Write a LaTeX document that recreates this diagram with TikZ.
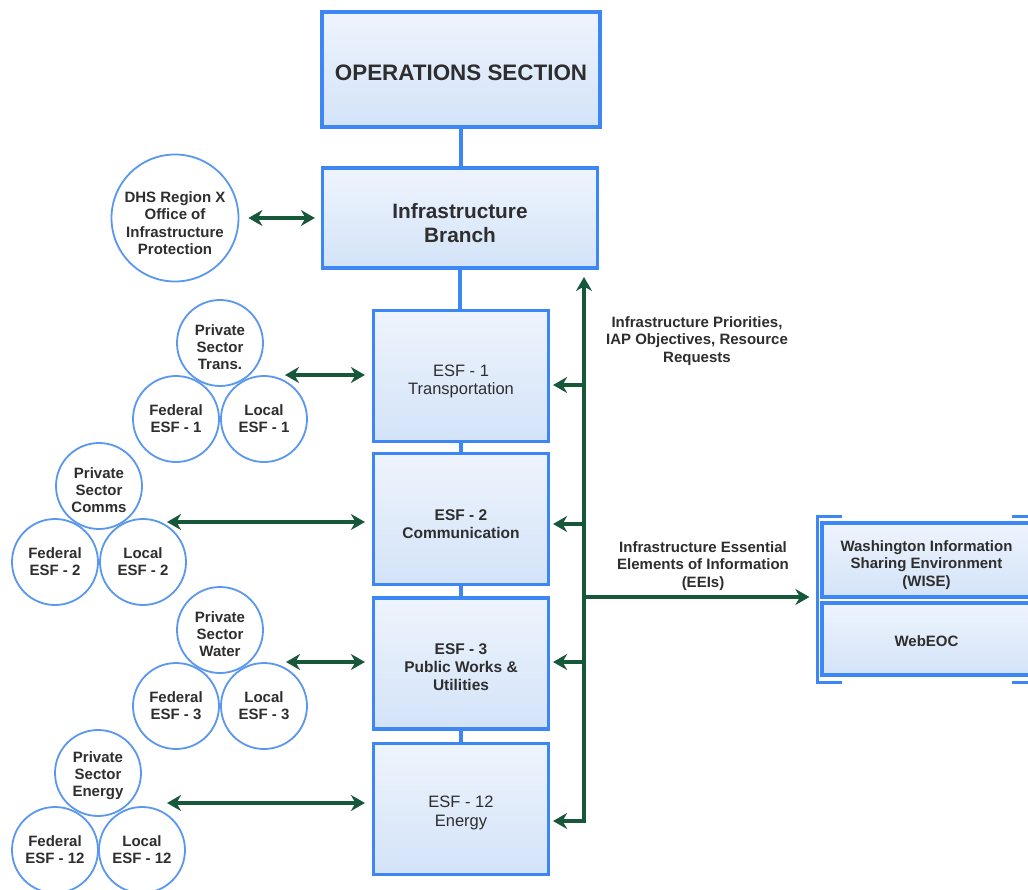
\documentclass[tikz,border=0pt]{standalone}
\usepackage{fontspec}
\setmainfont{Liberation Sans}
\usetikzlibrary{arrows.meta}
\definecolor{bblue}{HTML}{3D87F5}
\definecolor{cblue}{HTML}{5A97EE}
\definecolor{gline}{HTML}{17583A}
\definecolor{txt}{HTML}{2E2E2E}
\definecolor{ftop}{HTML}{EEF4FD}
\definecolor{fbot}{HTML}{D3E3F8}
\begin{document}
\begin{tikzpicture}[x=1pt,y=-1pt,
  box/.style={draw=bblue, line width=3.2pt, top color=ftop, bottom color=fbot, inner sep=0pt},
  esfbox/.style={box, minimum width=175pt, minimum height=131pt},
  tx/.style={align=center, text=txt, inner sep=0pt},
  esfbold/.style={tx, font=\fontsize{15.5}{18}\selectfont\bfseries},
  esfthin/.style={tx, font=\fontsize{16.5}{18.5}\selectfont},
  org/.style={draw=cblue, line width=1.8pt, circle, fill=white, minimum size=86pt, inner sep=0pt, align=center, text=txt, font=\fontsize{15}{17}\selectfont\bfseries},
  ptx/.style={tx, font=\fontsize{15}{17}\selectfont\bfseries},
  link/.style={draw=bblue, line width=4.5pt},
  bracket/.style={draw=bblue, line width=3pt},
  garrow/.style={draw=gline, line width=4pt, -{Stealth[length=14pt,width=16pt]}},
  gboth/.style={draw=gline, line width=4pt, {Stealth[length=14pt,width=16pt]}-{Stealth[length=14pt,width=16pt]}},
  lbl/.style={align=center, text=txt, font=\fontsize{15}{17.5}\selectfont\bfseries},
]
\useasboundingbox (0,0) rectangle (1028,890);
\fill[white] (0,0) rectangle (1028,890);
\clip (0,0) rectangle (1028,890);

% main boxes
\node[box, minimum width=278pt, minimum height=115pt] (ops) at (461,69.5) {};
\node[tx, font=\fontsize{22.4}{26}\selectfont\bfseries] (opst) at ([yshift=-3pt]ops.center) {OPERATIONS SECTION};
\node[box, minimum width=275pt, minimum height=100pt] (branch) at (460,218) {};
\node[tx, font=\fontsize{20.8}{23.5}\selectfont\bfseries] (brancht) at ([yshift=-5pt]branch.center) {Infrastructure\\Branch};
\node[esfbox] (esf1) at (461,376) {};
\node[esfthin] (esf1t) at ([yshift=-5.5pt]esf1.center) {ESF - 1\\Transportation};
\node[esfbox] (esf2) at (461,519) {};
\node[esfbold] (esf2t) at ([yshift=-5pt]esf2.center) {ESF - 2\\Communication};
\node[esfbox] (esf3) at (461,663.5) {};
\node[esfbold] (esf3t) at ([yshift=-4pt]esf3.center) {ESF - 3\\Public Works \&\\Utilities};
\node[esfbox] (esf12) at (461,809) {};
\node[esfthin] (esf12t) at ([yshift=-4pt]esf12.center) {ESF - 12\\Energy};

\draw[link] (ops.south) -- (ops.south |- branch.north);
\draw[link] (branch.south) -- (branch.south |- esf1.north);
\draw[link] (esf1.south) -- (esf2.north);
\draw[link] (esf2.south) -- (esf3.north);
\draw[link] (esf3.south) -- (esf12.north);

% DHS
\node[org, minimum size=127pt] (dhs) at (175,218) {};
\node[tx, font=\fontsize{15}{17.5}\selectfont\bfseries] (dhst) at ([yshift=-5pt]dhs.center) {DHS Region X\\Office of\\Infrastructure\\Protection};
\draw[gboth, shorten <=9pt, shorten >=6pt] (dhs.east) -- (dhs.east -| branch.west);

% circle groups
\node[org] (p1) at (220,343) {};
\node[ptx] (p1t) at ([yshift=-4pt]p1.center) {Private\\Sector\\Trans.};
\node[org] (f1) at (176,419) {Federal\\ESF - 1};
\node[org] (l1) at (264,419) {Local\\ESF - 1};
\node[org] (p2) at (99,486) {};
\node[ptx] (p2t) at ([yshift=-4pt]p2.center) {Private\\Sector\\Comms};
\node[org] (f2) at (55,562) {Federal\\ESF - 2};
\node[org] (l2) at (143,562) {Local\\ESF - 2};
\node[org] (p3) at (220,630) {};
\node[ptx] (p3t) at ([yshift=-4pt]p3.center) {Private\\Sector\\Water};
\node[org] (f3) at (176,706) {Federal\\ESF - 3};
\node[org] (l3) at (264,706) {Local\\ESF - 3};
\node[org] (p4) at (98,773) {};
\node[ptx] (p4t) at ([yshift=-3pt]p4.center) {Private\\Sector\\Energy};
\node[org] (f4) at (55,850) {Federal\\ESF - 12};
\node[org] (l4) at (142,850) {Local\\ESF - 12};

\coordinate (c1) at (285,375);
\coordinate (c2) at (167,522);
\coordinate (c3) at (286,662);
\coordinate (c4) at (167,803);
\draw[gboth, shorten >=7pt] (c1) -- (c1 -| esf1.west);
\draw[gboth, shorten >=7pt] (c2) -- (c2 -| esf2.west);
\draw[gboth, shorten >=7pt] (c3) -- (c3 -| esf3.west);
\draw[gboth, shorten >=7pt] (c4) -- (c4 -| esf12.west);

% right side system
\node[box, minimum width=209pt, minimum height=74pt] (wise) at (926.5,560) {};
\node[tx, font=\fontsize{15}{17.5}\selectfont\bfseries] (wiset) at ([yshift=-5pt]wise.center) {Washington Information\\Sharing Environment\\(WISE)};
\node[box, minimum width=209pt, minimum height=72pt] (webeoc) at (926.5,639) {};
\node[tx, font=\fontsize{15}{17.5}\selectfont\bfseries] (webeoct) at ([yshift=-2pt]webeoc.center) {WebEOC};
\draw[bracket] (842,516) -- (817,516) -- (817,682) -- (842,682);
\draw[bracket] (1012,516) -- (1036,516) -- (1036,682) -- (1012,682);

% green trunk
\coordinate (ttop) at (584,277);
\coordinate (tbot) at (584,821);
\draw[gboth, line join=miter, shorten >=3pt] (ttop) -- (tbot) -- (tbot -| esf12.east);
\coordinate (t1) at (584,385);
\coordinate (t2) at (584,524);
\coordinate (t3) at (584,662);
\coordinate (t5) at (584,597);
\draw[garrow, shorten >=3pt] (t1) -- (t1 -| esf1.east);
\draw[garrow, shorten >=3pt] (t2) -- (t2 -| esf2.east);
\draw[garrow, shorten >=3pt] (t3) -- (t3 -| esf3.east);
\draw[garrow, shorten >=11pt] (t5) -- (t5 -| wise.west);

\node[lbl] (lab1) at (697,341) {Infrastructure Priorities,\\IAP Objectives, Resource\\Requests};
\node[lbl] (lab2) at (703,566) {Infrastructure Essential\\Elements of Information\\(EEIs)};
\end{tikzpicture}
\end{document}
